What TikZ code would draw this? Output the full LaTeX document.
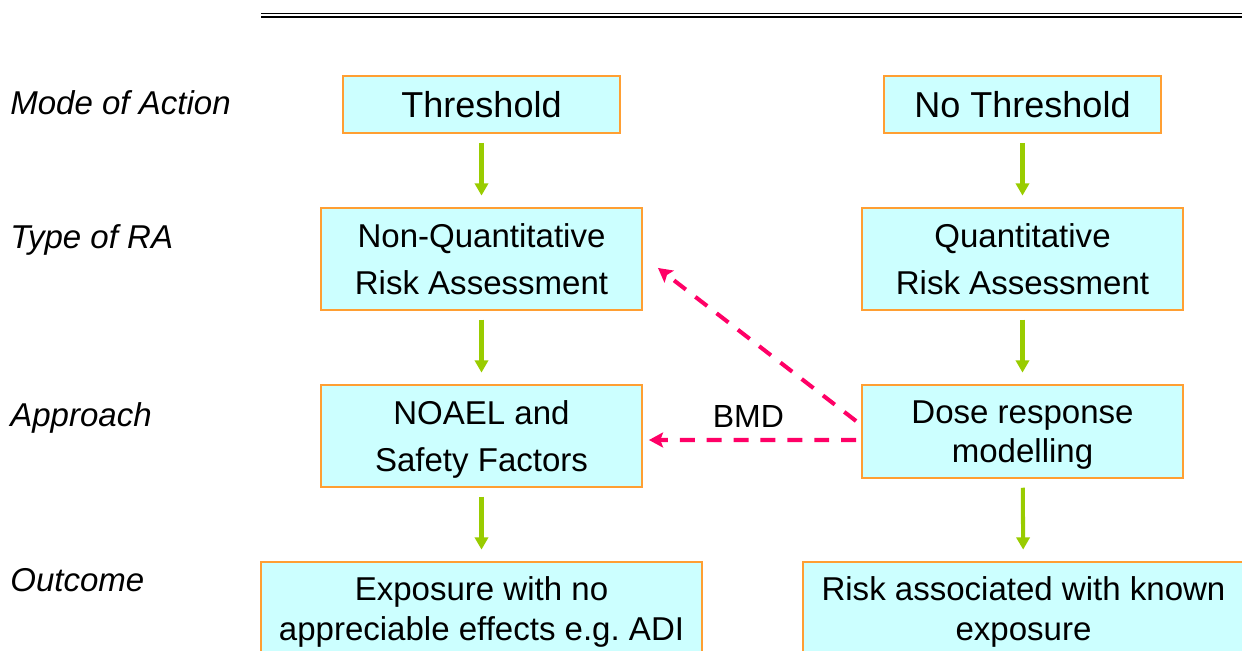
\documentclass[tikz,border=0pt]{standalone}
\usepackage{fontspec}
\setmainfont{Liberation Sans}
\usetikzlibrary{arrows.meta,calc}
\definecolor{boxfill}{HTML}{CCFFFF}
\definecolor{boxline}{HTML}{FF9F33}
\definecolor{flowgreen}{HTML}{99CC00}
\definecolor{bmdpink}{HTML}{FF0066}
\begin{document}
\begin{tikzpicture}[x=0.02cm,y=-0.02cm,
  every node/.style={font=\fontsize{18.8}{26.7}\selectfont},
  box/.style={draw=boxline,fill=boxfill,line width=1.1pt,align=center,inner sep=0pt},
  topbox/.style={box,minimum width=5.54cm,minimum height=1.14cm,font=\fontsize{20.5}{24}\selectfont},
  midbox/.style={box,minimum width=6.42cm,minimum height=2.04cm,text depth=0pt},
  lowbox/.style={box,minimum width=8.82cm,minimum height=2cm,font=\fontsize{18.8}{22.8}\selectfont},
  flow/.style={draw=flowgreen,line width=2.3pt,-{Triangle[width=7.5pt,length=7pt]},shorten <=5pt,shorten >=6.5pt},
  bmd/.style={draw=bmdpink,line width=2.3pt,dash pattern=on 8.5pt off 6.8pt,-{Stealth[width=8.5pt,length=8pt,inset=1.5pt]}},
  rowlabel/.style={anchor=base west,inner sep=0pt,font=\fontsize{18.8}{22}\selectfont\itshape}]
  \useasboundingbox (0,0) rectangle (1242,650);
  \clip (0,0) rectangle (1242,650);
  \draw[line width=0.9pt] (261,13.3) -- (1242,13.3);
  \draw[line width=1.2pt] (261,17) -- (1242,17);
  \node[rowlabel] (mode) at (10,114.7) {Mode of Action};
  \node[rowlabel] (type) at (10,248) {Type of RA};
  \node[rowlabel] (appr) at (10,426) {Approach};
  \node[rowlabel] (outc) at (10,591) {Outcome};
  \node[topbox] (thr) at (481.5,104.5) {Threshold};
  \node[topbox] (nothr) at (1022.5,104.5) {No Threshold};
  \node[midbox] (nonq) at (481.5,259) {Non-Quantitative\\Risk Assessment};
  \node[midbox] (quant) at (1022.5,259) {Quantitative\\Risk Assessment};
  \node[midbox] (noael) at (481.5,436) {NOAEL and\\Safety Factors};
  \node[midbox,minimum height=1.86cm,font=\fontsize{18.8}{22.2}\selectfont] (dose) at (1022.5,431.5) {Dose response\\modelling};
  \node[lowbox] (expo) at (481.5,612) {Exposure with no\\appreciable effects e.g.\ ADI};
  \node[lowbox] (risk) at (1023.5,612) {Risk associated with known\\exposure};
  \draw[flow] (thr) -- (nonq);
  \draw[flow] (nonq) -- (noael);
  \draw[flow] (noael) -- (expo);
  \draw[flow] (nothr) -- (quant);
  \draw[flow] (quant) -- (dose);
  \draw[flow] (dose) -- (risk);
  \draw[bmd] ($(dose.west)+(-5,-10.5)$) -- ($(nonq.south east)+(15,-43)$);
  \draw[bmd] ($(dose.west)+(-5,8.5)$) -- ($(noael.east)+(6,4)$)
    node[pos=0.52,above,inner sep=5.7pt,font=\fontsize{18.2}{22}\selectfont] (bmdlabel) {BMD};
\end{tikzpicture}
\end{document}
